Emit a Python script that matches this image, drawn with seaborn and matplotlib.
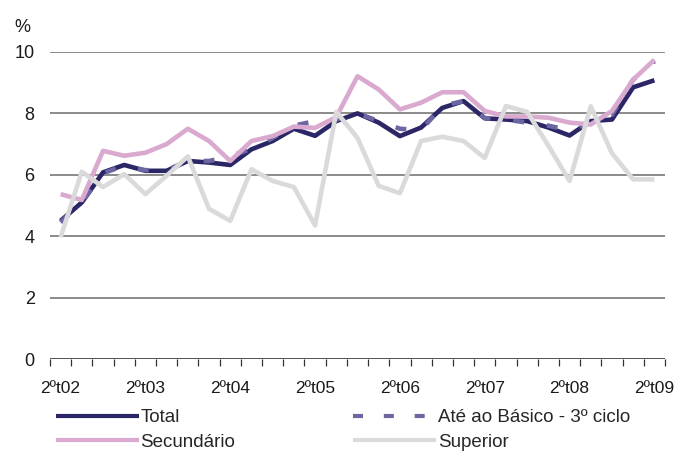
import matplotlib
matplotlib.use("Agg")
import matplotlib.pyplot as plt
import seaborn as sns
import pandas as pd
import numpy as np
from matplotlib.lines import Line2D

# ---- data ----
quarters = [f"{q}ºt{y:02d}" for y in range(2, 10) for q in (1, 2, 3, 4)][1:30]  # 2ºt02 .. 2ºt09
total = [4.5, 5.1, 6.08, 6.32, 6.13, 6.13, 6.45, 6.4, 6.32, 6.83, 7.1, 7.5, 7.27, 7.75,
         8.0, 7.7, 7.26, 7.54, 8.18, 8.4, 7.84, 7.8, 7.75, 7.54, 7.28, 7.75, 7.8, 8.85, 9.08]
basico = [4.45, 5.1, 6.05, 6.3, 6.15, 6.15, 6.45, 6.45, 6.6, 6.85, 7.2, 7.6, 7.75, 7.8,
          8.0, 7.75, 7.5, 7.45, 8.25, 8.4, 7.85, 7.8, 7.7, 7.6, 7.45, 7.7, 7.95, 9.1, 9.7]
secundario = [5.37, 5.18, 6.78, 6.62, 6.72, 7.0, 7.5, 7.1, 6.45, 7.1, 7.26, 7.57, 7.53, 7.88,
              9.21, 8.78, 8.13, 8.35, 8.69, 8.69, 8.08, 7.9, 7.9, 7.86, 7.7, 7.64, 8.08, 9.1, 9.75]
superior = [3.97, 6.1, 5.6, 6.02, 5.37, 5.97, 6.6, 4.89, 4.5, 6.18, 5.8, 5.6, 4.35, 8.05,
            7.2, 5.64, 5.4, 7.1, 7.24, 7.1, 6.55, 8.24, 8.05, 6.95, 5.8, 8.23, 6.7, 5.85, 5.85]
series_names = ["Total", "Até ao Básico - 3º ciclo", "Secundário", "Superior"]
yticks = [0, 2, 4, 6, 8, 10]

colors = {"Total": "#2b2767", "Até ao Básico - 3º ciclo": "#6c67a3",
          "Secundário": "#d9a9d0", "Superior": "#dadada"}
DASH = [2.4, 5.0]

sns.set_theme(style="white")
plt.rcParams['font.family'] = ['Liberation Sans', 'DejaVu Sans']

fig = plt.figure(figsize=(6.77, 4.54), dpi=100)
ax = fig.add_axes([50/677, 1-359/454, 615/677, 307/454])

idx = np.arange(len(quarters))
data = {"Total": total, "Até ao Básico - 3º ciclo": basico,
        "Secundário": secundario, "Superior": superior}

for name in series_names:
    df = pd.DataFrame({"x": idx, "y": data[name]})
    sns.lineplot(data=df, x="x", y="y", ax=ax, color=colors[name], lw=3.3, legend=False)
    if name == "Até ao Básico - 3º ciclo":
        ax.lines[-1].set_dashes(DASH)
    ax.lines[-1].set_solid_capstyle("butt")

ax.set_xlim(-0.5, len(quarters) - 0.5)
ax.set_ylim(0, 10)
ax.set_yticks(yticks)
ax.set_yticklabels([str(v) for v in yticks], fontsize=13, color="#1a1a1a")
for v in yticks[1:]:
    ax.axhline(v, color="#8a8a8a", lw=1.4, zorder=0)
ax.axhline(0, color="#333333", lw=1.2, zorder=0)

ax.set_xticks(idx[::4])
ax.set_xticklabels([quarters[i] for i in idx[::4]], fontsize=12.5, color="#1a1a1a")
ax.set_xticks(np.arange(-0.5, len(quarters), 1.0), minor=True)
ax.tick_params(axis="x", which="major", length=0, pad=16)
ax.tick_params(axis="x", which="minor", length=5, width=0.9, color="#333333", direction="out", bottom=True)
ax.tick_params(axis="y", length=0, pad=11)
for s in ax.spines.values():
    s.set_visible(False)
ax.set_xlabel("")
ax.set_ylabel("")

fig.text(14/677, 1-27/454, "%", fontsize=13, color="#1a1a1a", va="center")

handles = []
for n in series_names:
    h = Line2D([], [], color=colors[n], lw=3.0, solid_capstyle="butt")
    if n == "Até ao Básico - 3º ciclo":
        h.set_dashes(DASH)
    handles.append(h)
order = [0, 2, 1, 3]
fig.legend([handles[i] for i in order], [series_names[i] for i in order],
           ncol=2, loc="upper left", bbox_to_anchor=(56/677, 1-409/454),
           frameon=False, fontsize=13.5, handlelength=4.4, handletextpad=0.1,
           columnspacing=6.3, labelspacing=0.4, borderaxespad=0, borderpad=0)

fig.savefig("out.png", dpi=100)
